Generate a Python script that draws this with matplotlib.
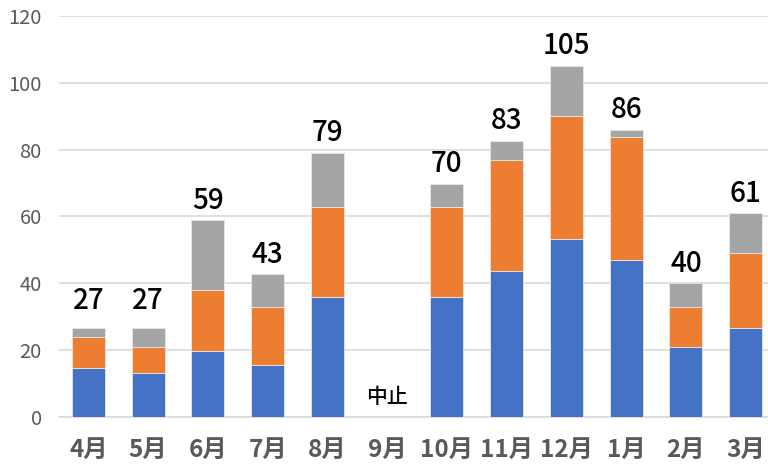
import matplotlib
import numpy as np

matplotlib.use("Agg")

import matplotlib.pyplot as plt  # noqa: E402

plt.rcParams["font.family"] = ["Noto Sans CJK JP", "DejaVu Sans"]

months = ["4月", "5月", "6月", "7月", "8月", "9月", "10月", "11月", "12月", "1月", "2月", "3月"]
blue_vals = [14.6, 13.1, 19.9, 15.6, 35.9, 0, 35.9, 43.7, 53.2, 46.9, 20.9, 26.6]
orange_vals = [9.3, 7.8, 18.0, 17.3, 27.0, 0, 27.0, 33.3, 36.7, 36.9, 12.0, 22.4]
gray_vals = [2.7, 5.7, 21.0, 9.8, 16.1, 0, 6.8, 5.7, 15.2, 2.1, 7.2, 11.9]
total_labels = ["27", "27", "59", "43", "79", "", "70", "83", "105", "86", "40", "61"]
cancel_month = "9月"
cancel_text = "中止"

COLORS = ["#4472C4", "#ED7D31", "#A5A5A5"]
TICK_GRAY = "#595959"

fig = plt.figure(figsize=(7.68, 4.68), dpi=100)
# plot area runs slightly past the right edge of the image, as in the source
ax = fig.add_axes([0.0762, 0.1083, 0.9335, 0.8582])

x = np.arange(len(months))
blue = np.array(blue_vals)
orange = np.array(orange_vals)
gray = np.array(gray_vals)
width = 0.55

bottom = np.zeros(len(months))
for vals, color in zip([blue, orange, gray], COLORS):
    ax.bar(x, vals, width, bottom=bottom, color=color,
           edgecolor="#e8e8e8", linewidth=0.6, zorder=3)
    bottom = bottom + vals

# total labels above each bar (short bars have their label lifted a bit)
for xi, top, lab in zip(x, bottom, total_labels):
    if not lab:
        continue
    ax.annotate(lab, (xi, max(top, 29.0)), xytext=(0, 4), textcoords="offset points",
                ha="center", va="bottom", fontsize=20, fontweight="medium", color="black")

ci = months.index(cancel_month)
ax.text(ci, 6.2, cancel_text, ha="center", va="center", fontsize=15,
        fontweight="medium", color="black")

ax.set_xlim(-0.5, len(months) - 0.5)
ax.set_ylim(0, 120)
ax.set_yticks(range(0, 121, 20))
ax.set_xticks(x)
ax.set_xticklabels(months)

ax.grid(True, axis="y", color="#d9d9d9", linewidth=1.2, zorder=0)
ax.set_axisbelow(True)
for side in ["top", "right", "left"]:
    ax.spines[side].set_visible(False)
ax.spines["bottom"].set_color("#d9d9d9")
ax.spines["bottom"].set_linewidth(1.2)

ax.tick_params(axis="y", length=0, pad=12, labelsize=14.5, labelcolor=TICK_GRAY)
ax.tick_params(axis="x", length=0, pad=15, labelsize=17.5, labelcolor=TICK_GRAY)
for lbl in ax.get_xticklabels():
    lbl.set_fontweight("bold")

fig.savefig("out.png", dpi=100, facecolor="white")
